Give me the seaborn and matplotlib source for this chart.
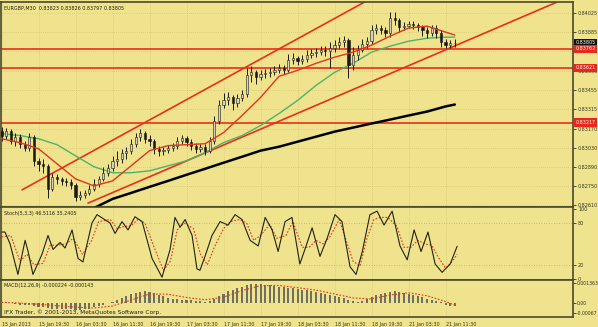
import os
import numpy as np
import pandas as pd
import matplotlib
matplotlib.use("Agg")
import matplotlib.pyplot as plt
from matplotlib import font_manager as fm
import seaborn as sns

# ---------------- data (EURGBP M30, prices in 1e-5 units) ----------------
bars = list(range(0, 198, 2))  # candle positions (bar index)
opens = [83158,83121,83158,83084,83113,83061,83032,83113,82935,82913,
         82898,82728,82817,82802,82787,82780,82758,82669,82683,82698,
         82728,82765,82802,82847,82884,82935,82950,82995,83010,83061,
         83113,83143,83098,83084,83024,83010,83017,83032,83047,83084,
         83106,83076,83047,83024,83039,83010,83084,83232,83343,83380,
         83402,83358,83395,83424,83565,83588,83550,83573,83580,83588,
         83602,83617,83602,83676,83691,83669,83684,83713,83728,83736,
         83750,83743,83765,83788,83810,83825,83639,83713,83750,83795,
         83817,83899,83914,83899,83876,83988,83973,83921,83928,83943,
         83936,83921,83899,83876,83914,83876,83810,83788,83802]
highs = [83187,83180,83173,83143,83136,83084,83143,83128,82958,82950,
         82913,82847,82839,82817,82809,82802,82772,82713,82721,82758,
         82802,82824,82891,82913,82972,83010,83024,83039,83098,83143,
         83173,83158,83128,83098,83047,83039,83054,83069,83113,83128,
         83121,83098,83069,83061,83061,83113,83269,83380,83432,83439,
         83417,83424,83454,83617,83632,83602,83602,83610,83617,83632,
         83647,83639,83721,83728,83706,83713,83750,83758,83765,83780,
         83780,83810,83825,83847,83854,83839,83773,83788,83832,83847,
         83936,83943,83936,83921,84032,84032,83988,83958,83965,83965,
         83951,83936,83921,83936,83936,83899,83832,83825,83832]
lows = [83084,83098,83061,83047,83032,83010,83010,82898,82861,82847,
        82661,82713,82765,82758,82750,82728,82639,82646,82661,82683,
        82713,82743,82787,82824,82861,82898,82921,82950,82987,83039,
        83084,83069,83047,82987,82972,82980,82995,83010,83024,83061,
        83047,83017,82995,83002,82980,82995,83061,83210,83321,83350,
        83313,83335,83373,83402,83513,83499,83528,83543,83550,83565,
        83580,83573,83588,83647,83639,83647,83662,83691,83699,83713,
        83706,83617,83736,83765,83773,83543,83602,83676,83736,83765,
        83795,83869,83869,83847,83847,83936,83884,83899,83914,83906,
        83891,83854,83839,83854,83839,83773,83765,83765,83773]
closes = [83121,83158,83084,83113,83061,83032,83113,82935,82913,82898,
          82728,82817,82802,82787,82780,82758,82669,82683,82698,82728,
          82765,82802,82847,82884,82935,82950,82995,83010,83061,83113,
          83143,83098,83084,83024,83010,83017,83032,83047,83084,83106,
          83076,83047,83024,83039,83010,83084,83232,83343,83380,83402,
          83358,83395,83424,83565,83588,83550,83573,83580,83588,83602,
          83617,83602,83676,83691,83669,83684,83713,83728,83736,83750,
          83743,83765,83788,83810,83825,83639,83713,83750,83795,83817,
          83899,83914,83899,83876,83988,83973,83921,83928,83943,83936,
          83921,83899,83876,83914,83876,83810,83788,83802,83805]

ma_bars = [0,8,16,24,32,40,48,56,64,72,80,88,96,104,112,120,128,136,144,152,160,168,176,184,192,196]
ma_fast = [83098,83069,83024,82913,82802,82750,82787,82898,83010,83047,83054,83061,83143,
           83269,83402,83558,83602,83654,83699,83736,83788,83854,83914,83928,83884,83862]
ma_mid = [83136,83121,83098,83054,82972,82891,82847,82847,82861,82898,82935,82995,83069,
          83121,83195,83284,83380,83491,83587,83654,83736,83780,83817,83839,83847,83847]
slow_bars = [40,48,56,64,72,80,88,96,104,112,120,128,136,144,152,160,168,176,184,192,196]
ma_slow = [82587,82654,82698,82743,82787,82832,82876,82921,82965,83010,83039,83076,83113,
           83150,83180,83210,83239,83269,83298,83336,83350]

channel_up_bars = [8.9, 160.0]
channel_up_px = [82721, 84134]
channel_lo_bars = [37.4, 240.0]
channel_lo_px = [82623, 84104]
levels = [0.83762, 0.83621, 0.83217]
last_price = 0.83805

k_bars = [0,1.5,3.7,7.1,10.2,11.5,13.6,17.5,20.1,22.3,25.3,27.5,30.5,33.1,35.2,39.1,41.3,46.9,
          49.1,52.1,54.7,57.7,60.8,65.1,69.4,72.9,75,77.2,79.4,82.4,84.5,85.8,88,91,94.5,98,101,
          104,107.5,111,114,117,119.6,122.6,125.6,129,131.7,134.3,137.7,140.8,144.2,147.2,150.7,
          153.3,156,159.3,162.4,165.4,168.9,172.3,175.4,178.4,181.4,184.4,187.5,190.5,194,197]
k_vals = [67,67,50,6,55,39,6,35,62,42,52,44,70,29,24,80,92,80,65,82,70,89,82,29,2,42,88,74,85,
          62,14,12,32,62,82,77,92,85,55,47,88,70,39,82,88,21,47,73,32,58,92,82,17,6,39,92,97,77,
          97,47,27,70,39,67,21,9,21,46.5]
d_bars = [0,4,8,11,14,18,21,24,28,31,35,39,42,47,50,53,56,59,62,66,70,73,76,79,83,86,89,92,96,
          99,103,106,109,112,116,119,123,126,130,133,136,139,142,146,149,152,155,158,161,164,167,
          171,174,177,180,183,186,189,192,195,197]
d_vals = [60,62,25,35,20,22,48,48,50,58,35,55,82,85,72,75,76,85,80,45,12,25,70,80,72,35,20,45,
          72,82,85,80,55,62,78,58,62,82,45,45,55,50,60,85,55,25,18,58,85,88,88,75,45,45,55,50,48,
          30,15,25,35.2]

macd_hist = [10,5,0,-5,-10,-15,-15,
             -20,-25,-28,-35,-38,-40,-40,-40,-40,-45,-45,-42,-38,-30,-22,-12,-2,
             10,22,35,48,60,70,78,80,78,70,58,
             45,35,28,25,22,20,18,15,12,10,12,
             25,45,65,80,90,100,108,120,128,130,128,125,120,115,112,108,105,100,95,
             92,88,82,75,70,62,55,48,40,35,22,
             12,10,15,25,
             40,55,65,70,78,80,75,70,65,58,
             50,40,30,22,15,5,
             -10,-18,-22.4]
sig_bars = [0,8,16,24,32,40,48,56,64,72,80,88,96,104,112,120,128,136,144,152,160,168,176,184,192,196]
sig_vals = [5,0,-8,-18,-28,-34,-20,20,62,60,38,22,40,85,118,120,105,88,62,35,28,55,70,50,10,-14.3]

time_ticks = [0,16,32,48,64,80,96,112,128,144,160,176,192]
time_labels = ["15 Jan 2013","15 Jan 19:30","16 Jan 03:30","16 Jan 11:30","16 Jan 19:30",
               "17 Jan 03:30","17 Jan 11:30","17 Jan 19:30","18 Jan 03:30","18 Jan 11:30",
               "18 Jan 19:30","21 Jan 03:30","21 Jan 11:30"]
price_ticks = [0.84025,0.83885,0.83745,0.83600,0.83455,0.83315,0.83170,0.83030,0.82890,0.82750,0.82610]

# ---------------- style ----------------
sns.set_theme(style="white")
plt.rcParams['font.family'] = ['DejaVu Sans']

# pick a narrow font face if one is installed (the reference uses a compact UI font)
_files = {}
for f in list(fm.findSystemFonts()) + [e.fname for e in fm.fontManager.ttflist]:
    _files.setdefault(os.path.basename(f).lower(), f)
FP = None
for fname, size in [('notosans-extracondensed.ttf', 5.0), ('liberationsansnarrow-regular.ttf', 4.4),
                    ('notosans-condensed.ttf', 4.6), ('dejavusanscondensed.ttf', 3.9),
                    ('liberationsans-regular.ttf', 3.9)]:
    if fname in _files:
        FP = fm.FontProperties(fname=_files[fname], size=size)
        break
if FP is None:
    FP = fm.FontProperties(family='DejaVu Sans', size=3.6)
FS = FP.get_size()
def fp(scale=1.0):
    p = FP.copy()
    p.set_size(FS * scale)
    return p

BG = '#EFE38D'
GRID = '#C9BD6E'
FRAME = '#4A4A30'
RED = '#E8301A'
TXT = '#222211'

W, H = 598, 327
fig = plt.figure(figsize=(W/100, H/100), dpi=100, facecolor=BG)

def axpx(top, bottom, left=1, right=573):
    return fig.add_axes([left/W, 1-bottom/H, (right-left)/W, (bottom-top)/H])

ax1 = axpx(2, 207)
ax2 = axpx(207, 280)
ax3 = axpx(280, 317)

XL = (-0.22, 247.1)
for ax in (ax1, ax2, ax3):
    ax.set_facecolor(BG)
    ax.set_xlim(*XL)
    for s in ax.spines.values():
        s.set_color(FRAME)
        s.set_linewidth(1.2)
    ax.yaxis.tick_right()
    ax.tick_params(axis='y', length=2, width=0.6, pad=1.6, colors='#333322')
    ax.set_xticks(time_ticks)
    ax.grid(True, axis='x', color=GRID, lw=0.5, linestyle=(0, (1, 2)))

ax1.set_xticklabels([]); ax2.set_xticklabels([])
ax1.tick_params(axis='x', length=0); ax2.tick_params(axis='x', length=0)

# ---------------- main price panel ----------------
df = pd.DataFrame({'bar': bars, 'open': np.array(opens)/1e5, 'high': np.array(highs)/1e5,
                   'low': np.array(lows)/1e5, 'close': np.array(closes)/1e5})
ax1.set_ylim(0.825945, 0.84106)
ax1.set_yticks(price_ticks)
ax1.set_yticklabels([f"{p:.5f}" for p in price_ticks])
ax1.grid(True, axis='y', color=GRID, lw=0.5, linestyle=(0, (1, 2)))

for lv in levels:
    ax1.axhline(lv, color=RED, lw=1.2, zorder=2)

sns.lineplot(x=channel_up_bars, y=np.array(channel_up_px)/1e5, ax=ax1, color=RED, lw=1.2, zorder=2)
sns.lineplot(x=channel_lo_bars, y=np.array(channel_lo_px)/1e5, ax=ax1, color=RED, lw=1.2, zorder=2)
sns.lineplot(x=slow_bars, y=np.array(ma_slow)/1e5, ax=ax1, color='black', lw=1.8, zorder=3)
sns.lineplot(x=ma_bars, y=np.array(ma_mid)/1e5, ax=ax1, color='#4DB36A', lw=1.0, zorder=3)

up = df.close >= df.open
ax1.vlines(df.bar, df.low, df.high, color='#1A1A1A', lw=0.7, zorder=4)
body_h = (df.close - df.open).abs().clip(lower=0.000025)
ax1.bar(df.bar, body_h, bottom=np.minimum(df.open, df.close), width=0.95,
        color=np.where(up, '#D8D3B8', '#1A1A1A'), edgecolor='#1A1A1A', lw=0.4, zorder=5)
sns.lineplot(x=ma_bars, y=np.array(ma_fast)/1e5, ax=ax1, color='#E0361C', lw=1.0, zorder=6)
ax1.set_xlabel(''); ax1.set_ylabel('')

ax1.text(3/572, 1-6/205, "EURGBP,M30  0.83823 0.83826 0.83797 0.83805", transform=ax1.transAxes,
         fontproperties=fp(), color=TXT, va='center', ha='left')

def tag(ax, y, txt, fc):
    ax.text(1.004, y, txt, transform=ax.get_yaxis_transform(), fontproperties=fp(), color='white',
            va='center', ha='left', zorder=10, clip_on=False,
            bbox=dict(boxstyle='square,pad=0.3', fc=fc, ec='none'))
tag(ax1, last_price, "0.83805", '#111111')
for lv in levels:
    tag(ax1, lv, f"{lv:.5f}", '#E8281A')

# ---------------- stochastic ----------------
ax2.set_ylim(-2, 103)
ax2.set_yticks([100, 80, 20, 0])
ax2.set_yticklabels(['100', '80', '20', '0'])
for lv in (20, 80):
    ax2.axhline(lv, color='#B8AE6A', lw=0.6, linestyle=(0, (1, 2)))
sns.lineplot(x=d_bars, y=d_vals, ax=ax2, color='#E0361C', lw=0.8, linestyle=(0, (1.5, 1.5)))
sns.lineplot(x=k_bars, y=k_vals, ax=ax2, color='#222211', lw=0.8)
ax2.set_xlabel(''); ax2.set_ylabel('')
ax2.text(3/572, 1-7/73, "Stoch(5,3,3) 46.5116 35.2405", transform=ax2.transAxes,
         fontproperties=fp(), color=TXT, va='center', ha='left')

# ---------------- MACD ----------------
ax3.set_ylim(-0.00095, 0.00157)
ax3.set_yticks([0.001363, 0.0, -0.00067])
ax3.set_yticklabels(['0.001363', '0.00', '-0.00067'])
ax3.tick_params(axis='y', pad=0.8)
ax3.bar(bars, np.array(macd_hist)/1e5, width=0.9, color='#707060', lw=0, zorder=3)
sns.lineplot(x=sig_bars, y=np.array(sig_vals)/1e5, ax=ax3, color='#E0361C', lw=0.8,
             linestyle=(0, (1.5, 1.5)), zorder=4)
ax3.set_xlabel(''); ax3.set_ylabel('')
ax3.text(3/572, 1-6/37, "MACD(12,26,9) -0.000224 -0.000143", transform=ax3.transAxes,
         fontproperties=fp(), color=TXT, va='center', ha='left')
ax3.text(3/572, 1-32/37, "IFX Trader, \u00a9 2001-2013, MetaQuotes Software Corp.", transform=ax3.transAxes,
         fontproperties=fp(1.2), color=TXT, va='center', ha='left', zorder=6)
ax3.set_xticklabels(time_labels)
ax3.tick_params(axis='x', length=2, width=0.6, pad=1.5, colors='#333322')
for t in ax3.get_xticklabels():
    t.set_horizontalalignment('left')
for ax in (ax1, ax2, ax3):
    ax.set_xlim(*XL)
    for t in ax.get_yticklabels() + ax.get_xticklabels():
        t.set_fontproperties(fp())
for t in ax3.get_yticklabels():
    t.set_fontproperties(fp(0.95))

fig.savefig("out.png", dpi=100, facecolor=BG)
